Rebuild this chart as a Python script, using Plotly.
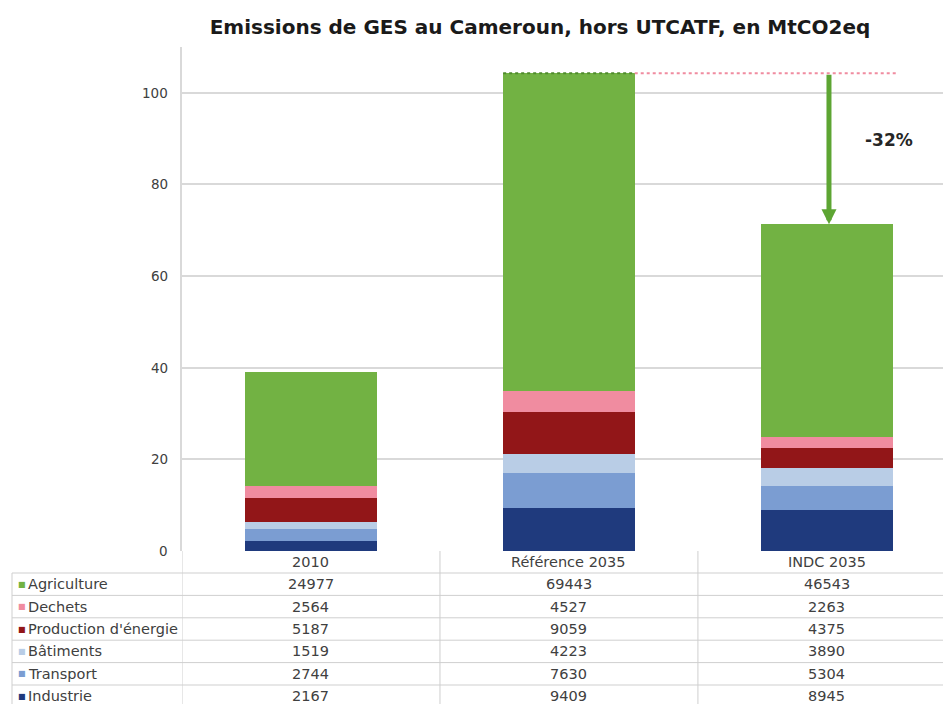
import plotly.graph_objects as go

# ---------------- data (kt CO2eq) ----------------
categories = ["2010", "Référence 2035", "INDC 2035"]
sectors = ["Agriculture", "Dechets", "Production d'énergie", "Bâtiments", "Transport", "Industrie"]
agriculture = [24977, 69443, 46543]
dechets = [2564, 4527, 2263]
production_energie = [5187, 9059, 4375]
batiments = [1519, 4223, 3890]
transport = [2744, 7630, 5304]
industrie = [2167, 9409, 8945]
y_ticks = [0, 20, 40, 60, 80, 100]

series = {
    "Agriculture": agriculture,
    "Dechets": dechets,
    "Production d'énergie": production_energie,
    "Bâtiments": batiments,
    "Transport": transport,
    "Industrie": industrie,
}
colors = {
    "Agriculture": "#72B243",
    "Dechets": "#F08CA0",
    "Production d'énergie": "#921618",
    "Bâtiments": "#B9CDE6",
    "Transport": "#7B9DD2",
    "Industrie": "#1F3A7D",
}

W, H = 943, 704
L, R, T, B = 182, 0, 47, 153
plot_h = H - T - B


def py(Y):
    """pixel row -> paper y"""
    return (H - B - Y) / plot_h


def px(X):
    return (X - L) / (W - L - R)


fig = go.Figure()
# stack from bottom to top
for name in ["Industrie", "Transport", "Bâtiments", "Production d'énergie", "Dechets", "Agriculture"]:
    fig.add_trace(go.Bar(
        x=list(range(len(categories))),
        y=[v / 1000 for v in series[name]],
        name=name,
        marker=dict(color=colors[name], line=dict(width=0)),
        showlegend=False,
    ))

totals = [sum(series[s][i] for s in sectors) / 1000 for i in range(len(categories))]
ref_total, indc_total = totals[1], totals[2]
pct = round((1 - indc_total / ref_total) * 100)

shapes = []
annotations = []

# dotted reference line
shapes.append(dict(type="line", xref="x", yref="y", x0=0.745, x1=1.255, y0=ref_total, y1=ref_total,
                   line=dict(color="#4F8A2C", width=2, dash="dot")))
shapes.append(dict(type="line", xref="x", yref="y", x0=1.255, x1=2.27, y0=ref_total, y1=ref_total,
                   line=dict(color="#F08CA0", width=2, dash="dot")))

# arrow
annotations.append(dict(x=2.008, y=indc_total, ax=2.008, ay=ref_total, xref="x", yref="y",
                        axref="x", ayref="y", text="", showarrow=True, arrowhead=2,
                        arrowsize=0.6, arrowwidth=5, arrowcolor="#5DA533"))
annotations.append(dict(x=2.24, y=89.7, xref="x", yref="y", text=f"<b>-{pct}%</b>", showarrow=False,
                        font=dict(family="DejaVu Sans", size=17, color="#262626")))

# y tick labels
for v in y_ticks:
    annotations.append(dict(x=px(170), y=v, xref="paper", yref="y", text=str(v), showarrow=False,
                            xanchor="right", yanchor="middle",
                            font=dict(family="DejaVu Sans", size=13.5, color="#404040")))

# ---------------- data table ----------------
grid_c = "#CFCFCF"
row_top = 573
row_h = 22.4
n_rows = len(sectors)
bottom = row_top + row_h * n_rows
# horizontal lines
for k in range(n_rows + 1):
    yy = py(row_top + row_h * k)
    shapes.append(dict(type="line", xref="paper", yref="paper", x0=px(12), x1=1, y0=yy, y1=yy,
                       line=dict(color=grid_c, width=1)))
# vertical lines
shapes.append(dict(type="line", xref="paper", yref="paper", x0=px(12), x1=px(12), y0=py(row_top), y1=py(bottom),
                   line=dict(color=grid_c, width=1)))
for xb in [-0.5, 0.5, 1.5]:
    shapes.append(dict(type="line", xref="x", yref="paper", x0=xb, x1=xb, y0=0, y1=py(bottom),
                       line=dict(color=grid_c, width=1)))

tfont = dict(family="DejaVu Sans", size=14.5, color="#404040")
# header
for i, c in enumerate(categories):
    annotations.append(dict(x=i, y=py(562), xref="x", yref="paper", text=c, showarrow=False,
                            font=tfont, xanchor="center", yanchor="middle"))
for r, s in enumerate(sectors):
    yc = py(row_top + row_h * (r + 0.5))
    annotations.append(dict(x=px(16), y=yc, xref="paper", yref="paper", text="■", showarrow=False,
                            font=dict(family="DejaVu Sans", size=8, color=colors[s]),
                            xanchor="left", yanchor="middle"))
    annotations.append(dict(x=px(26), y=yc, xref="paper", yref="paper", text=s, showarrow=False,
                            font=tfont, xanchor="left", yanchor="middle"))
    for i in range(len(categories)):
        annotations.append(dict(x=i, y=yc, xref="x", yref="paper", text=str(series[s][i]), showarrow=False,
                                font=tfont, xanchor="center", yanchor="middle"))

fig.update_layout(
    width=W, height=H,
    margin=dict(l=L, r=R, t=T, b=B),
    paper_bgcolor="white", plot_bgcolor="white",
    barmode="stack", bargap=0.49,
    title=dict(text="<b>Emissions de GES au Cameroun, hors UTCATF, en MtCO2eq</b>",
               x=540 / W, xanchor="center", y=1 - 27 / H, yanchor="middle", yref="container",
               font=dict(family="DejaVu Sans", size=20, color="#1a1a1a")),
    xaxis=dict(range=[-0.5, 2.45], showticklabels=False, showgrid=False, zeroline=False,
               showline=False, ticks=""),
    yaxis=dict(range=[0, 110], tickvals=y_ticks, showgrid=True, gridcolor="#D9D9D9", gridwidth=1.5,
               zeroline=False, showline=True, linecolor="#D9D9D9", linewidth=1.5, ticks="",
               showticklabels=False),
    shapes=shapes,
    annotations=annotations,
)

fig.write_html("out.html", config={"displayModeBar": False},
               post_script="document.body.style.margin='0';document.body.style.padding='0';")
